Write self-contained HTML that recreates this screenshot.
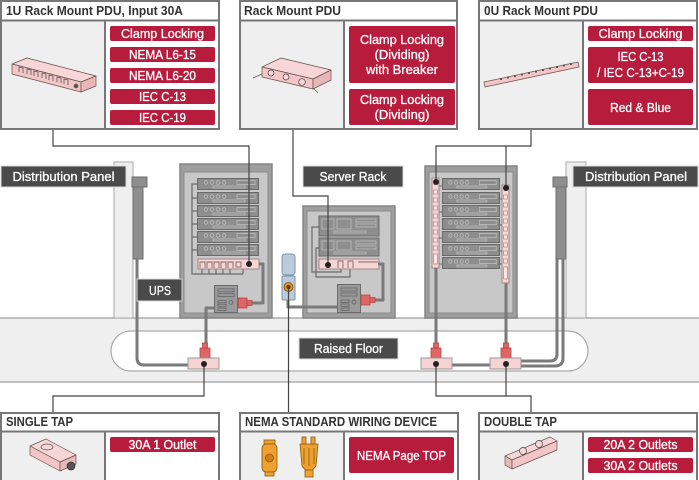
<!DOCTYPE html>
<html><head><meta charset="utf-8">
<style>
html,body{margin:0;padding:0;background:#fff;}
svg{display:block;}
.hd{font-family:"Liberation Sans",sans-serif;font-weight:bold;font-size:13px;fill:#333;}
.lb{font-family:"Liberation Sans",sans-serif;font-size:12.5px;fill:#fff;stroke:#fff;stroke-width:0.3;text-anchor:middle;}
.dk{font-family:"Liberation Sans",sans-serif;font-size:13px;fill:#fff;stroke:#fff;stroke-width:0.3;text-anchor:middle;}
</style></head>
<body>
<svg width="699" height="480" viewBox="0 0 699 480" xmlns="http://www.w3.org/2000/svg">
<defs>
 <symbol id="srv" viewBox="0 0 62 12" preserveAspectRatio="none">
  <rect x="0.5" y="0.5" width="61" height="11" fill="#8e8e8e" stroke="#6a6a6a"/>
  <g fill="none" stroke="#bdbdbd" stroke-width="0.8">
   <circle cx="9" cy="4.5" r="1.8"/><circle cx="15" cy="4.5" r="1.8"/><circle cx="21" cy="4.5" r="1.8"/><circle cx="27" cy="4.5" r="1.8"/>
   <rect x="40" y="2.5" width="18" height="4"/>
   <rect x="16" y="8" width="32" height="2"/>
  </g>
 </symbol>
 <symbol id="ups" viewBox="0 0 24 29" preserveAspectRatio="none">
  <rect x=".5" y=".5" width="23" height="28" fill="#9a9a9a" stroke="#6a6a6a"/>
  <g fill="none" stroke="#6a6a6a" stroke-width=".9">
   <rect x="4" y="4" width="16" height="3"/><rect x="4" y="9" width="16" height="3"/>
   <rect x="4" y="16" width="8" height="2.5"/><rect x="4" y="20" width="8" height="2.5"/><rect x="4" y="24" width="8" height="2.5"/>
   <circle cx="17" cy="18" r="2"/>
  </g>
 </symbol>
</defs>

<!-- floor -->
<rect x="-2" y="318" width="703" height="64" fill="#efefef" stroke="#9a9a9a" stroke-width="1.2"/>
<rect x="111" y="331" width="477" height="40" rx="20" fill="#fff" stroke="#aaa" stroke-width="1.2"/>

<!-- distribution panels -->
<rect x="114" y="162" width="19" height="156" fill="#efefef" stroke="#aaa"/>
<rect x="566" y="162" width="20" height="156" fill="#efefef" stroke="#aaa"/>
<!-- pipes -->
<rect x="133" y="187" width="10" height="72" fill="#8e8e8e" stroke="#6e6e6e"/>
<rect x="132" y="177" width="15" height="10" fill="#8e8e8e" stroke="#6e6e6e"/>
<rect x="556" y="187" width="10" height="72" fill="#8e8e8e" stroke="#6e6e6e"/>
<rect x="553" y="177" width="14" height="10" fill="#8e8e8e" stroke="#6e6e6e"/>

<!-- left rack -->
<rect x="180" y="164" width="92" height="154" fill="#9e9e9e" stroke="#858585" stroke-width="1.5"/>
<rect x="184" y="172" width="84" height="141" fill="#c8c8c8" stroke="#8a8a8a"/>
<g fill="none" stroke="#6a6a6a" stroke-width="1.2">
 <path d="M197,184 H192 V274 H243"/>
 <path d="M192,198 H197 M192,211 H197 M192,224 H197 M192,237 H197 M192,250 H197"/>
 <path d="M202,266 V274 M209,266 V274 M216,266 V274 M223,266 V274 M230,266 V274 M243,266 V274"/>
</g>
<use href="#srv" x="197" y="178" width="62" height="12"/>
<use href="#srv" x="197" y="192" width="62" height="12"/>
<use href="#srv" x="197" y="205" width="62" height="12"/>
<use href="#srv" x="197" y="218" width="62" height="12"/>
<use href="#srv" x="197" y="231" width="62" height="12"/>
<use href="#srv" x="197" y="244" width="62" height="12"/>
<rect x="198" y="259" width="61" height="10" fill="#f9d4d4" stroke="#a08888"/>
<g fill="none" stroke="#7a6a6a" stroke-width=".9">
 <path d="M200,268 V262 H205 V268 M207,268 V262 H212 V268 M214,268 V262 H219 V268 M221,268 V262 H226 V268 M228,268 V262 H233 V268"/>
 <rect x="236" y="262" width="5" height="5"/>
</g>
<use href="#ups" x="214" y="285" width="24" height="28"/>

<!-- middle rack -->
<rect x="303" y="206" width="92" height="112" fill="#9e9e9e" stroke="#858585" stroke-width="1.5"/>
<rect x="307" y="211" width="84" height="102" fill="#c8c8c8" stroke="#8a8a8a"/>
<g fill="none" stroke="#6a6a6a" stroke-width="1.2">
 <path d="M319,227 H312 V272 H341 V267"/>
 <path d="M319,248 H316 V277 H350 V267"/>
</g>
<g>
 <rect x="319" y="216" width="60" height="20" fill="#8e8e8e" stroke="#6a6a6a"/>
 <rect x="322" y="219" width="12" height="10" fill="none" stroke="#bdbdbd" stroke-width=".8"/>
 <rect x="337" y="219" width="14" height="10" fill="none" stroke="#bdbdbd" stroke-width=".8"/>
 <rect x="356" y="219" width="20" height="3" fill="none" stroke="#bdbdbd" stroke-width=".8"/>
 <rect x="356" y="224" width="20" height="3" fill="none" stroke="#bdbdbd" stroke-width=".8"/>
 <rect x="334" y="231" width="32" height="2" fill="none" stroke="#bdbdbd" stroke-width=".8"/>
 <rect x="319" y="238" width="60" height="18" fill="#8e8e8e" stroke="#6a6a6a"/>
 <rect x="322" y="241" width="12" height="9" fill="none" stroke="#bdbdbd" stroke-width=".8"/>
 <rect x="337" y="241" width="14" height="9" fill="none" stroke="#bdbdbd" stroke-width=".8"/>
 <rect x="356" y="241" width="20" height="3" fill="none" stroke="#bdbdbd" stroke-width=".8"/>
 <rect x="356" y="246" width="20" height="3" fill="none" stroke="#bdbdbd" stroke-width=".8"/>
 <rect x="334" y="252" width="32" height="2" fill="none" stroke="#bdbdbd" stroke-width=".8"/>
</g>
<rect x="319" y="259" width="60" height="10" fill="#f9d4d4" stroke="#a08888"/>
<g fill="none" stroke="#7a6a6a" stroke-width=".9">
 <path d="M338,268 V261 H343 V268 M348,268 V261 H353 V268"/>
 <path d="M358,262 H378"/>
</g>
<use href="#ups" x="337" y="284" width="24" height="29"/>

<!-- right rack -->
<rect x="425" y="166" width="92" height="152" fill="#9e9e9e" stroke="#858585" stroke-width="1.5"/>
<rect x="429" y="172" width="84" height="141" fill="#c8c8c8" stroke="#8a8a8a"/>
<use href="#srv" x="442" y="178" width="58" height="12"/>
<use href="#srv" x="442" y="192" width="58" height="12"/>
<use href="#srv" x="442" y="205" width="58" height="12"/>
<use href="#srv" x="442" y="218" width="58" height="12"/>
<use href="#srv" x="442" y="231" width="58" height="12"/>
<use href="#srv" x="442" y="244" width="58" height="12"/>
<use href="#srv" x="442" y="257" width="58" height="12"/>
<rect x="432" y="178" width="7" height="90" fill="#f9d4d4" stroke="#a08888"/>
<rect x="502" y="185" width="7" height="98" fill="#f9d4d4" stroke="#a08888"/>
<g fill="#fbe6e6" stroke="#a08888" stroke-width=".7">
 <rect x="433.5" y="190" width="4" height="4"/><rect x="433.5" y="198" width="4" height="4"/><rect x="433.5" y="206" width="4" height="4"/><rect x="433.5" y="214" width="4" height="4"/><rect x="433.5" y="222" width="4" height="4"/><rect x="433.5" y="230" width="4" height="4"/><rect x="433.5" y="238" width="4" height="4"/><rect x="433.5" y="246" width="4" height="4"/><rect x="433.5" y="254" width="4" height="10"/>
 <rect x="503.5" y="195" width="4" height="4"/><rect x="503.5" y="203" width="4" height="4"/><rect x="503.5" y="211" width="4" height="4"/><rect x="503.5" y="219" width="4" height="4"/><rect x="503.5" y="227" width="4" height="4"/><rect x="503.5" y="235" width="4" height="4"/><rect x="503.5" y="243" width="4" height="4"/><rect x="503.5" y="251" width="4" height="4"/><rect x="503.5" y="259" width="4" height="4"/><rect x="503.5" y="267" width="4" height="12"/>
</g>
<g stroke="#6a6a6a" stroke-width="1">
 <path d="M439,186 H443 M439,212 H443 M439,238 H443 M439,264 H443"/>
 <path d="M498,199 H502 M498,225 H502 M498,251 H502 M498,264 H502"/>
</g>

<!-- cables -->
<g fill="none" stroke="#7a7a7a" stroke-width="3" stroke-linejoin="round">
 <path d="M137,259 V358 Q137,365 144,365 H188"/>
 <path d="M259,264 H263 V303 H252"/>
 <path d="M214,308 H206 V343"/>
 <path d="M378,264 H383 V300 H375"/>
 <path d="M288,290 V307 H337"/>
 <path d="M436,268 V343"/>
 <path d="M506,283 V343"/>
 <path d="M452,365 H490"/>
 <path d="M521,361 H550 Q557,361 557,354 V259"/>
 <path d="M521,366 H555 Q563,366 563,358 V259"/>
</g>

<!-- plugs -->
<g fill="#e06565" stroke="#b04848" stroke-width=".8">
 <rect x="238" y="298" width="9" height="10"/><rect x="247" y="300.5" width="5" height="5"/>
 <rect x="361" y="295" width="9" height="10"/><rect x="370" y="297.5" width="5" height="5"/>
 <rect x="200" y="348" width="10" height="10"/><rect x="202.5" y="343" width="5" height="5"/>
 <rect x="431" y="348" width="10" height="10"/><rect x="433.5" y="343" width="5" height="5"/>
 <rect x="501" y="348" width="10" height="10"/><rect x="503.5" y="343" width="5" height="5"/>
</g>
<!-- taps -->
<g fill="#f8d3d3" stroke="#999" stroke-width="1">
 <rect x="188" y="358" width="31" height="11"/>
 <rect x="421" y="358" width="31" height="11"/>
 <rect x="490" y="358" width="31" height="11"/>
</g>

<!-- blue NEMA device -->
<rect x="282" y="254" width="13" height="21" rx="3" fill="#b9cbdd" stroke="#7f93a8"/>
<rect x="282" y="276" width="13" height="24" rx="1" fill="#b9cbdd" stroke="#7f93a8"/>
<circle cx="288.5" cy="287" r="4.5" fill="#e8901e" stroke="#7a4a10" stroke-width=".8"/>
<circle cx="288.5" cy="287" r="2" fill="#5a3a10"/>

<!-- thin connector lines -->
<g fill="none" stroke="#444" stroke-width="1.2">
 <path d="M53,130 V146 H249 V264"/>
 <path d="M293,130 V196 H328 V265"/>
 <path d="M531,130 V146 H436 V182"/>
 <path d="M506,146 V188"/>
 <path d="M204,364 V396 H53 V412"/>
 <path d="M288.5,287 V412"/>
 <path d="M436,364 V396 H531 V412"/>
 <path d="M506,364 V396"/>
</g>
<g fill="#222">
 <circle cx="249" cy="264" r="3"/>
 <circle cx="328" cy="265" r="3"/>
 <circle cx="436" cy="182" r="3"/>
 <circle cx="506" cy="188" r="3"/>
 <circle cx="204" cy="364" r="3"/>
 <circle cx="436" cy="364" r="3"/>
 <circle cx="506" cy="364" r="3"/>
</g>

<!-- dark labels -->
<g fill="#4a4a4a" stroke="#d8d8d8" stroke-width="1">
 <rect x="1" y="166" width="125" height="21"/>
 <rect x="303" y="166" width="100" height="21"/>
 <rect x="573" y="166" width="125" height="21"/>
 <rect x="137" y="279" width="45" height="22"/>
 <rect x="299" y="338" width="99" height="21"/>
</g>
<text class="dk" x="63.5" y="181" textLength="102" lengthAdjust="spacingAndGlyphs">Distribution Panel</text>
<text class="dk" x="353" y="181" textLength="67" lengthAdjust="spacingAndGlyphs">Server Rack</text>
<text class="dk" x="636" y="181" textLength="102" lengthAdjust="spacingAndGlyphs">Distribution Panel</text>
<text class="dk" x="160" y="295" textLength="22" lengthAdjust="spacingAndGlyphs">UPS</text>
<text class="dk" x="348.5" y="353" textLength="69" lengthAdjust="spacingAndGlyphs">Raised Floor</text>

<!-- ===== top boxes ===== -->
<g fill="#fff" stroke="#777" stroke-width="2">
 <rect x="1" y="1" width="218" height="128"/>
 <rect x="240" y="1" width="217" height="128"/>
 <rect x="479" y="1" width="218" height="128"/>
 <rect x="1" y="413" width="218" height="80"/>
 <rect x="240" y="413" width="218" height="80"/>
 <rect x="479" y="413" width="218" height="80"/>
</g>
<g fill="#efefef">
 <rect x="2" y="21" width="103" height="107"/>
 <rect x="241" y="21" width="103" height="107"/>
 <rect x="480" y="21" width="103" height="107"/>
 <rect x="2" y="432" width="103" height="50"/>
 <rect x="241" y="432" width="103" height="50"/>
 <rect x="480" y="432" width="103" height="50"/>
</g>
<g stroke="#777" stroke-width="2">
 <path d="M0,20.5 H220 M105,20 V129"/>
 <path d="M239,20.5 H458 M344,20 V129"/>
 <path d="M478,20.5 H698 M583,20 V129"/>
 <path d="M0,431.5 H220 M105,431 V480"/>
 <path d="M239,431.5 H459 M344,431 V480"/>
 <path d="M478,431.5 H698 M583,431 V480"/>
</g>

<text class="hd" x="6" y="15" textLength="177" lengthAdjust="spacingAndGlyphs">1U Rack Mount PDU, Input 30A</text>
<text class="hd" x="244" y="15" textLength="97" lengthAdjust="spacingAndGlyphs">Rack Mount PDU</text>
<text class="hd" x="484" y="15" textLength="114" lengthAdjust="spacingAndGlyphs">0U Rack Mount PDU</text>
<text class="hd" x="6" y="426" textLength="67" lengthAdjust="spacingAndGlyphs">SINGLE TAP</text>
<text class="hd" x="245" y="426" textLength="192" lengthAdjust="spacingAndGlyphs">NEMA STANDARD WIRING DEVICE</text>
<text class="hd" x="484" y="426" textLength="73" lengthAdjust="spacingAndGlyphs">DOUBLE TAP</text>

<!-- red labels -->
<g fill="#b81c3c">
 <rect x="110" y="26" width="105" height="15" rx="2"/>
 <rect x="110" y="47" width="105" height="15" rx="2"/>
 <rect x="110" y="68" width="105" height="15" rx="2"/>
 <rect x="110" y="89" width="105" height="15" rx="2"/>
 <rect x="110" y="110" width="105" height="15" rx="2"/>
 <rect x="349" y="26" width="106" height="57" rx="2"/>
 <rect x="349" y="89" width="106" height="36" rx="2"/>
 <rect x="588" y="26" width="105" height="15" rx="2"/>
 <rect x="588" y="47" width="105" height="36" rx="2"/>
 <rect x="588" y="89" width="105" height="36" rx="2"/>
 <rect x="110" y="437" width="105" height="15" rx="2"/>
 <rect x="349" y="437" width="105" height="36" rx="2"/>
 <rect x="588" y="437" width="105" height="15" rx="2"/>
 <rect x="588" y="458" width="105" height="15" rx="2"/>
</g>
<text class="lb" x="162.5" y="38" textLength="83" lengthAdjust="spacingAndGlyphs">Clamp Locking</text>
<text class="lb" x="162.5" y="59" textLength="67" lengthAdjust="spacingAndGlyphs">NEMA L6-15</text>
<text class="lb" x="162.5" y="80" textLength="67" lengthAdjust="spacingAndGlyphs">NEMA L6-20</text>
<text class="lb" x="162.5" y="101" textLength="47" lengthAdjust="spacingAndGlyphs">IEC C-13</text>
<text class="lb" x="162.5" y="122" textLength="47" lengthAdjust="spacingAndGlyphs">IEC C-19</text>
<text class="lb" x="402" y="44" textLength="84" lengthAdjust="spacingAndGlyphs">Clamp Locking</text>
<text class="lb" x="402" y="59" textLength="55" lengthAdjust="spacingAndGlyphs">(Dividing)</text>
<text class="lb" x="402" y="74" textLength="72" lengthAdjust="spacingAndGlyphs">with Breaker</text>
<text class="lb" x="402" y="104" textLength="84" lengthAdjust="spacingAndGlyphs">Clamp Locking</text>
<text class="lb" x="402" y="119" textLength="55" lengthAdjust="spacingAndGlyphs">(Dividing)</text>
<text class="lb" x="640.5" y="38" textLength="84" lengthAdjust="spacingAndGlyphs">Clamp Locking</text>
<text class="lb" x="640.5" y="61" textLength="46" lengthAdjust="spacingAndGlyphs">IEC C-13</text>
<text class="lb" x="640.5" y="77" textLength="87" lengthAdjust="spacingAndGlyphs">/ IEC C-13+C-19</text>
<text class="lb" x="640.5" y="112" textLength="61" lengthAdjust="spacingAndGlyphs">Red &amp; Blue</text>
<text class="lb" x="162.5" y="449" textLength="68" lengthAdjust="spacingAndGlyphs">30A 1 Outlet</text>
<text class="lb" x="401.5" y="460" textLength="89" lengthAdjust="spacingAndGlyphs">NEMA Page TOP</text>
<text class="lb" x="640.5" y="449" textLength="74" lengthAdjust="spacingAndGlyphs">20A 2 Outlets</text>
<text class="lb" x="640.5" y="470" textLength="74" lengthAdjust="spacingAndGlyphs">30A 2 Outlets</text>

<!-- product images -->
<g stroke="#6a5050" stroke-width=".7" stroke-linejoin="round">
 <!-- 1U PDU -->
 <polygon points="12,64 27,58 96,76 81,82" fill="#f6d6d6"/>
 <polygon points="12,64 81,82 81,92 12,74" fill="#f2c6c6"/>
 <polygon points="81,82 96,76 96,86 81,92" fill="#e8b8b8"/>
 <g fill="none" stroke="#555" stroke-width=".8">
  <path d="M19,72 V67 L23,68 V73 M27,74 V69 L31,70 V75"/>
  <path d="M34,76 V71 L38,72 V77 M42,78 V73 L46,74 V79"/>
  <path d="M49,80 V75 L53,76 V81 M57,82 V77 L61,78 V83"/>
  <path d="M64,84 V79 L68,80 V85"/>
 </g>
 <circle cx="76" cy="86" r="2" fill="#555"/>
 <!-- rack mount PDU -->
 <polygon points="262,67 281,58 331,70 313,79" fill="#f6d6d6"/>
 <polygon points="262,67 313,79 313,89 262,77" fill="#f2c6c6"/>
 <polygon points="313,79 331,70 331,80 313,89" fill="#e8b8b8"/>
 <path d="M262,74 L253,78 M313,88 L318,93" fill="none"/>
 <circle cx="271" cy="73" r="3" fill="#f6d6d6" stroke="#444"/>
 <circle cx="286" cy="77" r="3" fill="#f6d6d6" stroke="#444"/>
 <circle cx="302" cy="82" r="3.3" fill="#f6d6d6" stroke="#444"/>
 <!-- 0U PDU -->
 <polygon points="484,82 578,62 579,67 485,87" fill="#f2c6c6"/>
 <g fill="#555" stroke="none">
  <rect x="500" y="78" width="2" height="2"/><rect x="507" y="76.5" width="2" height="2"/><rect x="514" y="75" width="2" height="2"/><rect x="521" y="73.5" width="2" height="2"/><rect x="528" y="72" width="2" height="2"/><rect x="535" y="70.5" width="2" height="2"/><rect x="542" y="69" width="2" height="2"/><rect x="549" y="67.5" width="2" height="2"/><rect x="556" y="66" width="2" height="2"/><rect x="563" y="64.5" width="2" height="2"/><rect x="570" y="63" width="2" height="2"/>
 </g>
 <!-- single tap -->
 <polygon points="30,446 46,439 76,455 60,462" fill="#f6d6d6"/>
 <polygon points="30,446 60,462 60,471 30,455" fill="#f2c6c6"/>
 <polygon points="60,462 76,455 76,464 60,471" fill="#e8b8b8"/>
 <ellipse cx="47" cy="447" rx="6" ry="3" fill="none" stroke="#555"/>
 <circle cx="71" cy="466" r="4" fill="#555" stroke="#333"/>
 <!-- double tap -->
 <polygon points="505,456 550,437 557,441 512,460" fill="#f6d6d6"/>
 <polygon points="505,456 512,460 512,469 505,465" fill="#e8b8b8"/>
 <polygon points="512,460 557,441 557,450 512,469" fill="#f2c6c6"/>
 <circle cx="523" cy="451" r="3.5" fill="#f6d6d6" stroke="#444"/>
 <circle cx="539" cy="444" r="3.5" fill="#f6d6d6" stroke="#444"/>
</g>
<!-- NEMA orange devices -->
<g fill="#f0a030" stroke="#8a5a10" stroke-width=".8">
 <rect x="264" y="440" width="11" height="4"/>
 <rect x="262" y="444" width="15" height="28" rx="4"/>
 <circle cx="269.5" cy="458" r="4" fill="#d08018"/>
 <rect x="265" y="472" width="9" height="4"/>
 <path d="M300,444 H318 L316,466 Q309,476 302,466 Z"/>
 <rect x="302" y="437" width="4" height="7"/><rect x="311" y="437" width="4" height="7"/>
 <path d="M304,448 V464 M309,448 V466 M314,448 V464" fill="none"/>
 <rect x="305" y="470" width="8" height="7"/>
</g>
</svg>
</body></html>
